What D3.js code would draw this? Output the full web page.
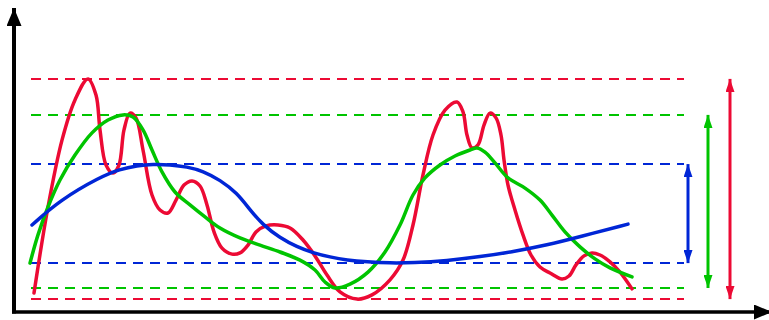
<!DOCTYPE html>
<html>
<head>
<meta charset="utf-8">
<script src="https://cdn.jsdelivr.net/npm/d3@7"></script>
<style>
  html, body { margin: 0; padding: 0; background: #fff; }
  svg { display: block; }
</style>
</head>
<body>
<svg id="chart" width="769" height="320"></svg>
<script>
// Three signals sampled along a shared time axis (x), amplitude (y) on 0–100.
const redX = [2.0, 3.4, 4.8, 6.1, 7.4, 8.2, 8.6, 9.2, 9.9, 10.5, 11.0, 11.6, 12.2, 12.9, 13.8, 14.6, 15.4, 16.2, 17.0, 17.8, 18.6, 19.3, 20.0, 20.8, 21.8, 22.6, 23.4, 24.2, 25.2, 26.4, 27.6, 28.9, 30.1, 31.3, 32.6, 34.3, 35.8, 37.6, 38.9, 39.9, 40.9, 41.9, 43.1, 44.3, 44.9, 45.3, 45.8, 46.4, 47.0, 47.6, 48.2, 48.7, 49.0, 49.4, 50.1, 50.9, 51.7, 52.6, 53.6, 54.8, 55.5, 56.2, 57.0, 57.8, 58.6, 59.6, 60.6, 61.8];
const redY = [6.3, 35.0, 57.3, 70.7, 77.7, 72.3, 60.7, 49.0, 46.3, 49.0, 60.7, 66.3, 64.7, 54.0, 39.0, 34.0, 33.0, 37.3, 42.3, 43.7, 42.0, 35.7, 26.7, 21.3, 19.3, 19.7, 22.3, 26.7, 28.7, 29.0, 28.0, 24.0, 18.7, 12.3, 6.7, 4.3, 5.7, 10.7, 17.3, 29.0, 45.7, 59.0, 67.3, 70.0, 66.7, 59.0, 54.7, 55.7, 62.3, 66.3, 64.7, 59.0, 50.7, 42.3, 34.0, 25.7, 19.0, 15.0, 13.0, 11.0, 12.0, 15.7, 18.7, 19.7, 19.0, 16.7, 13.3, 7.7];

const greenX = [1.6, 2.4, 3.4, 4.6, 6.1, 7.8, 9.4, 10.9, 11.9, 12.9, 13.8, 14.8, 16.1, 17.6, 19.1, 20.6, 22.6, 24.6, 26.6, 28.6, 30.1, 31.1, 32.1, 33.6, 35.4, 37.1, 38.6, 39.9, 41.1, 42.6, 44.1, 45.6, 46.3, 47.1, 48.1, 49.4, 51.1, 52.6, 53.8, 55.1, 56.6, 58.1, 59.6, 61.8];
const greenY = [16.3, 25.7, 35.0, 44.0, 52.3, 59.7, 64.0, 65.7, 65.0, 60.7, 54.0, 46.7, 40.0, 35.7, 31.7, 28.0, 24.7, 22.3, 20.0, 17.3, 14.0, 10.0, 8.0, 9.3, 13.3, 20.0, 29.0, 39.0, 44.7, 49.0, 52.0, 54.0, 54.7, 53.3, 49.7, 44.7, 41.3, 37.3, 32.3, 26.7, 21.7, 17.7, 14.7, 11.7];

const blueX = [1.8, 4.6, 8.6, 10.6, 12.3, 13.9, 15.6, 17.3, 18.9, 20.6, 22.3, 23.6, 24.9, 26.6, 28.3, 29.9, 31.6, 33.3, 35.3, 37.6, 39.9, 43.3, 46.6, 49.9, 53.3, 56.6, 61.4];
const blueY = [29.0, 37.3, 45.0, 47.6, 48.8, 49.3, 49.1, 48.4, 47.0, 44.0, 39.7, 34.0, 29.0, 24.7, 21.7, 19.7, 18.3, 17.3, 16.7, 16.3, 16.4, 17.1, 18.4, 20.1, 22.3, 25.1, 29.3];

const seriesNames = ["red", "green", "blue"];
const seriesColors = ["#ec0a34", "#00c400", "#0026d6"];

// Layout
const width = 769, height = 320;
const x = d3.scaleLinear().domain([0, 75]).range([14, 764]);
const y = d3.scaleLinear().domain([0, 100]).range([312, 12]);

const svg = d3.select("#chart");

const defs = svg.append("defs");
function marker(id, color, w, h) {
  defs.append("marker")
    .attr("id", id)
    .attr("viewBox", `0 0 ${w} ${h}`)
    .attr("refX", w).attr("refY", h / 2)
    .attr("markerUnits", "userSpaceOnUse")
    .attr("markerWidth", w).attr("markerHeight", h)
    .attr("orient", "auto-start-reverse")
    .append("path")
    .attr("d", `M0,0 L${w},${h / 2} L0,${h} Z`)
    .attr("fill", color);
}
marker("axisHead", "#000", 18, 15);
seriesColors.forEach((c, i) => marker("head" + i, c, 13, 9));

// The slow blue signal is drawn with a B-spline; the others pass through every sample.
const curves = [
  d3.curveCatmullRom.alpha(0.5),
  d3.curveCatmullRom.alpha(0.5),
  d3.curveBasis
];

const series = [
  { xs: redX, ys: redY },
  { xs: greenX, ys: greenY },
  { xs: blueX, ys: blueY }
].map((s, i) => ({
  name: seriesNames[i],
  color: seriesColors[i],
  curve: curves[i],
  points: s.xs.map((v, j) => [v, s.ys[j]])
}));

// Dashed max/min guide lines for each signal
const guideStart = 1.7, guideEnd = 67.0;
const gGuides = svg.append("g");
series.forEach(s => {
  const ext = d3.extent(s.points, d => d[1]);
  ext.forEach(v => {
    gGuides.append("line")
      .attr("x1", x(guideStart)).attr("x2", x(guideEnd))
      .attr("y1", y(v)).attr("y2", y(v))
      .attr("stroke", s.color)
      .attr("stroke-width", 2)
      .attr("stroke-dasharray", "10,7");
  });
});

// Signal curves
svg.append("g").selectAll("path")
  .data(series)
  .join("path")
  .attr("d", d => d3.line()
    .x(p => x(p[0]))
    .y(p => y(p[1]))
    .curve(d.curve)(d.points))
  .attr("fill", "none")
  .attr("stroke", d => d.color)
  .attr("stroke-width", 3.5)
  .attr("stroke-linejoin", "round")
  .attr("stroke-linecap", "round");

// Peak-to-peak range arrows (blue, green, red from left to right)
const arrowX = { blue: 67.4, green: 69.4, red: 71.6 };
series.forEach((s, i) => {
  const ext = d3.extent(s.points, d => d[1]);
  svg.append("line")
    .attr("x1", x(arrowX[s.name])).attr("x2", x(arrowX[s.name]))
    .attr("y1", y(ext[0])).attr("y2", y(ext[1]))
    .attr("stroke", s.color)
    .attr("stroke-width", 3)
    .attr("marker-start", `url(#head${i})`)
    .attr("marker-end", `url(#head${i})`);
});

// Axes with arrowheads
svg.append("line")
  .attr("x1", 14).attr("y1", 313.5)
  .attr("x2", 14).attr("y2", 8)
  .attr("stroke", "#000").attr("stroke-width", 4)
  .attr("marker-end", "url(#axisHead)");
svg.append("line")
  .attr("x1", 12).attr("y1", 312)
  .attr("x2", 772).attr("y2", 312)
  .attr("stroke", "#000").attr("stroke-width", 3.5)
  .attr("marker-end", "url(#axisHead)");
</script>
</body>
</html>
